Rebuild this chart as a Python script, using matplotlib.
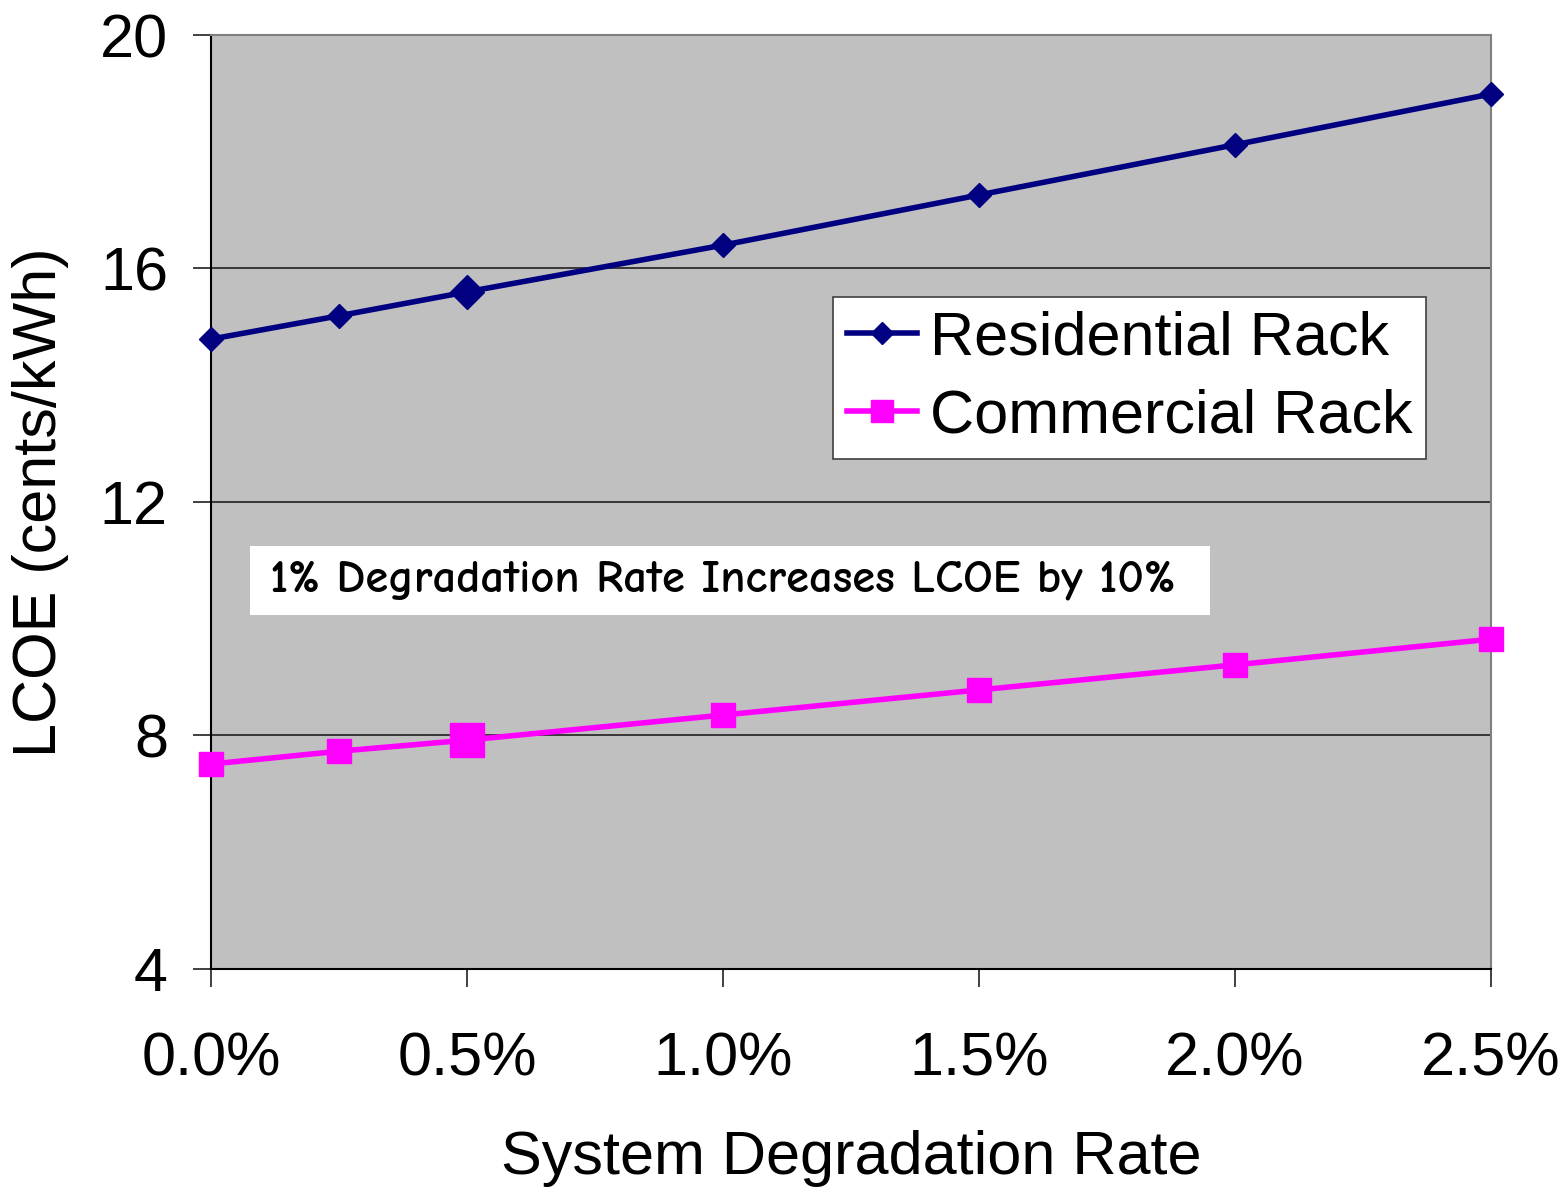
import matplotlib.pyplot as plt
from matplotlib.patches import Rectangle
from matplotlib.ticker import FuncFormatter

plt.rcParams['font.family'] = ['Liberation Sans', 'DejaVu Sans']

# LCOE vs. system degradation rate
degradation = [0.0, 0.25, 0.5, 1.0, 1.5, 2.0, 2.5]
residential = [14.79, 15.19, 15.60, 16.40, 17.26, 18.12, 18.99]
commercial = [7.51, 7.73, 7.92, 8.35, 8.78, 9.21, 9.65]
highlight = 2  # the 0.5% point is drawn with a larger marker

y_ticks = [4, 8, 12, 16, 20]
x_ticks = [0.0, 0.5, 1.0, 1.5, 2.0, 2.5]
note = '1% Degradation Rate Increases LCOE by 10%'

fig = plt.figure(figsize=(15.63, 11.87), dpi=100)
ax = fig.add_axes([0.135, 0.1837, 0.819, 0.7868])
ax.set_facecolor('#c0c0c0')

ax.plot(degradation, residential, color='#000080', lw=4.0, marker='D',
        ms=12, label='Residential Rack', zorder=3, clip_on=False)
ax.plot(degradation, commercial, color='#ff00ff', lw=4.0, marker='s',
        ms=17, label='Commercial Rack', zorder=3, clip_on=False)
ax.plot(degradation[highlight], residential[highlight], color='#000080',
        marker='D', ms=17, zorder=4)
ax.plot(degradation[highlight], commercial[highlight], color='#ff00ff',
        marker='s', ms=24, zorder=4)

ax.set_xlim(0, 2.5)
ax.set_ylim(4, 20)
ax.set_xticks(x_ticks)
ax.set_yticks(y_ticks)
ax.xaxis.set_major_formatter(FuncFormatter(lambda v, p: f'{v:.1f}%'))
ax.grid(axis='y', color='#202020', lw=1.2)
ax.set_axisbelow(True)

for side in ['left', 'bottom']:
  ax.spines[side].set_color('black')
  ax.spines[side].set_linewidth(1.5)
for side in ['right', 'top']:
  ax.spines[side].set_color('#808080')
  ax.spines[side].set_linewidth(1.5)

ax.tick_params(axis='both', direction='out', length=13, width=1.2,
               labelsize=44, color='#202020')
ax.tick_params(axis='x', pad=32)
ax.tick_params(axis='y', pad=18)

ax.set_xlabel('System Degradation Rate', fontsize=44, labelpad=30)
ax.set_ylabel('LCOE (cents/kWh)', fontsize=44, labelpad=22)

leg = ax.legend(loc='upper left', bbox_to_anchor=(0.486, 0.7195),
                fontsize=44, fancybox=False, framealpha=1,
                edgecolor='#404040', handlelength=1.15, handletextpad=0.22,
                borderpad=0.22, labelspacing=0.34, borderaxespad=0,
                markerscale=0.9)
leg.get_frame().set_linewidth(1.2)

ax.add_patch(Rectangle((0.0305, 0.379), 0.75, 0.074, transform=ax.transAxes,
                       facecolor='white', edgecolor='none', zorder=5))
ax.text(0.046, 0.4165, note, transform=ax.transAxes, fontsize=33.5,
        weight='bold', family=['Comic Neue', 'DejaVu Sans'],
        va='center', ha='left', zorder=6)

fig.savefig('out.png', dpi=100)
